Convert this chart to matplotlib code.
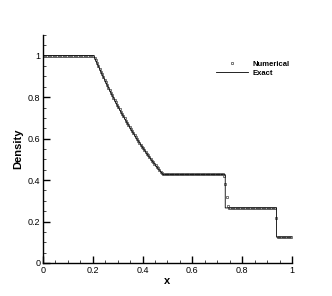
import matplotlib
matplotlib.use("Agg")
import matplotlib.pyplot as plt
import numpy as np
from matplotlib.ticker import MultipleLocator, FuncFormatter

plt.rcParams["font.family"] = ["Liberation Sans", "DejaVu Sans"]

# numerical solution, 200 cells
cell_x = np.linspace(0.0025, 0.9975, 200)
left_state = [1.0] * 41
fan = [0.991, 0.977, 0.963, 0.950, 0.936, 0.923, 0.910, 0.897, 0.884, 0.871,
       0.859, 0.846, 0.834, 0.822, 0.810, 0.798, 0.786, 0.775, 0.763, 0.752,
       0.741, 0.730, 0.719, 0.708, 0.698, 0.687, 0.677, 0.667, 0.656, 0.646,
       0.637, 0.627, 0.617, 0.608, 0.598, 0.589, 0.580, 0.571, 0.562, 0.553,
       0.544, 0.536, 0.527, 0.519, 0.511, 0.502, 0.494, 0.486, 0.479, 0.471,
       0.463, 0.456, 0.448, 0.441, 0.433]
plateau_left = [0.427] * 49
contact = [0.420, 0.382, 0.316, 0.275]
plateau_right = [0.266] * 38
shock = [0.217]
right_state = [0.125] * 12
num_rho = np.array(left_state + fan + plateau_left + contact
                   + plateau_right + shock + right_state)

# exact solution
exact_x = [0.0, 0.204, 0.2175, 0.2375, 0.2575, 0.2775, 0.2975, 0.3175, 0.3375,
           0.3575, 0.3775, 0.3975, 0.4175, 0.4375, 0.4575, 0.4824, 0.7319,
           0.7319, 0.938, 0.938, 1.0]
exact_rho = [1.0, 1.0, 0.963, 0.910, 0.859, 0.810, 0.763, 0.719, 0.677,
             0.637, 0.598, 0.562, 0.527, 0.494, 0.463, 0.4263, 0.4263,
             0.2656, 0.2656, 0.125, 0.125]

fig = plt.figure(figsize=(3.32, 2.96), dpi=100)
ax = fig.add_axes([0.1295, 0.1115, 0.75, 0.7703])

ax.plot(cell_x, num_rho, linestyle="none", marker="s", markersize=1.8,
        markerfacecolor="white", markeredgecolor="#444444",
        markeredgewidth=0.5, label="Numerical")
ax.plot(exact_x, exact_rho, color="black", linewidth=0.6, label="Exact")

ax.set_xlim(0, 1)
ax.set_ylim(0, 1.1)
ax.spines["top"].set_visible(False)
ax.spines["right"].set_visible(False)
for side in ("left", "bottom"):
    ax.spines[side].set_linewidth(1.0)

fmt = FuncFormatter(lambda v, pos: "%g" % round(v, 2))
ax.xaxis.set_major_locator(MultipleLocator(0.2))
ax.xaxis.set_minor_locator(MultipleLocator(0.05))
ax.yaxis.set_major_locator(MultipleLocator(0.2))
ax.yaxis.set_minor_locator(MultipleLocator(0.05))
ax.xaxis.set_major_formatter(fmt)
ax.yaxis.set_major_formatter(fmt)
ax.tick_params(which="major", direction="in", length=5, width=1.0,
               labelsize=6.5, pad=2)
ax.tick_params(which="minor", direction="in", length=2.5, width=0.5)

ax.set_xlabel("x", fontsize=8, fontweight="bold", labelpad=1)
ax.set_ylabel("Density", fontsize=8, fontweight="bold", labelpad=3)

ax.legend(loc="upper left", bbox_to_anchor=(0.63, 0.82),
          bbox_transform=fig.transFigure, frameon=False,
          prop={"size": 5.5, "weight": "bold"}, handlelength=4.2,
          handletextpad=0.6, labelspacing=0.25, markerscale=1.0)

fig.savefig("out.png", dpi=100)
